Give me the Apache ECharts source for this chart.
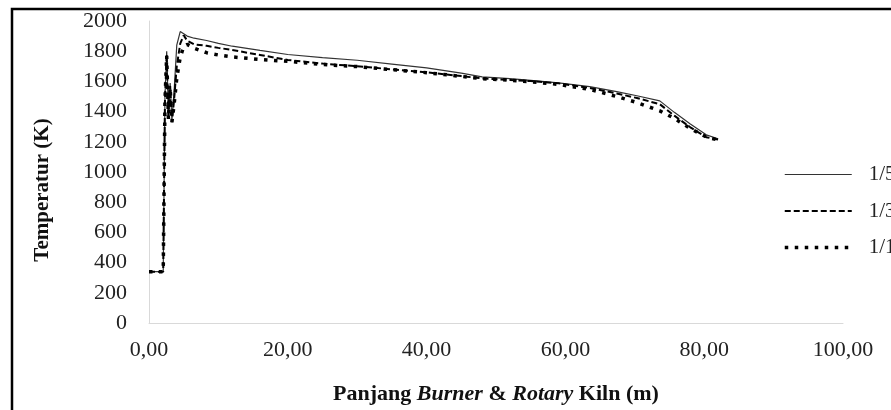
<!DOCTYPE html>
<html>
<head>
<meta charset="utf-8">
<script src="https://cdn.jsdelivr.net/npm/echarts@6/dist/echarts.min.js"></script>
<style>
html,body{margin:0;padding:0;background:#fff;}
#chart{width:891px;height:410px;}
</style>
</head>
<body>
<div id="chart"></div>
<script>
// Distance along burner & rotary kiln (m)
const distance = [0, 2.05, 2.3, 2.55, 2.8, 3.05, 3.3, 3.6, 4.0, 4.5, 5.0, 5.5, 6.5, 8.3, 10, 12, 16, 20, 25, 30, 35, 40, 45, 48, 52, 55, 59, 63.5, 67.4, 70.3, 73.6, 75.7, 78, 80.3, 82];
// Temperature (K) per series
const temp15 = [340, 340, 1500, 1800, 1380, 1590, 1340, 1520, 1840, 1930, 1915, 1900, 1886, 1871, 1852, 1833, 1805, 1778, 1757, 1740, 1715, 1690, 1655, 1630, 1618, 1607, 1590, 1565, 1532, 1505, 1471, 1395, 1318, 1246, 1220];
const temp13 = [340, 340, 1480, 1780, 1360, 1570, 1330, 1470, 1700, 1850, 1905, 1870, 1845, 1836, 1822, 1808, 1775, 1742, 1718, 1700, 1680, 1660, 1635, 1620, 1610, 1602, 1587, 1557, 1520, 1490, 1449, 1373, 1296, 1230, 1215];
const temp11 = [340, 340, 1470, 1770, 1350, 1560, 1330, 1440, 1620, 1760, 1830, 1845, 1820, 1790, 1775, 1762, 1745, 1733, 1712, 1698, 1678, 1658, 1633, 1618, 1608, 1598, 1580, 1547, 1500, 1460, 1405, 1355, 1288, 1232, 1212];
const seriesNames = ['1/5', '1/3', '1/1'];
const xTicks = [0, 20, 40, 60, 80, 100];
const yTicks = [0, 200, 400, 600, 800, 1000, 1200, 1400, 1600, 1800, 2000];

const pairs = arr => distance.map((d, i) => [d, arr[i]]);
const serif = '"Liberation Serif", "Times New Roman", serif';

const styles = [
  {color: '#333', width: 1.2, type: 'solid'},
  {color: '#000', width: 2, type: [6, 3]},
  {color: '#000', width: 3.5, type: [3.5, 6.5]}
];

const chart = echarts.init(document.getElementById('chart'), null, {renderer: 'canvas'});
chart.setOption({
  animation: false,
  backgroundColor: '#fff',
  grid: {left: 149, top: 21, right: 48, bottom: 84, containLabel: false},
  xAxis: {
    type: 'value', min: xTicks[0], max: xTicks[xTicks.length - 1], interval: 20,
    axisLine: {show: true, lineStyle: {color: '#d9d9d9', width: 1}},
    axisTick: {show: false},
    splitLine: {show: false},
    axisLabel: {
      color: '#222', fontFamily: serif, fontSize: 22, margin: 16,
      formatter: v => v.toFixed(2).replace('.', ',')
    },
    name: '{b|Panjang }{i|Burner}{b| & }{i|Rotary}{b| Kiln (m)}',
    nameLocation: 'middle', nameGap: 60,
    nameTextStyle: {
      rich: {
        b: {fontFamily: serif, fontSize: 22, fontWeight: 'bold', color: '#111'},
        i: {fontFamily: serif, fontSize: 22, fontWeight: 'bold', fontStyle: 'italic', color: '#111'}
      }
    }
  },
  yAxis: {
    type: 'value', min: yTicks[0], max: yTicks[yTicks.length - 1], interval: 200,
    axisLine: {show: true, lineStyle: {color: '#d9d9d9', width: 1}},
    axisTick: {show: false},
    splitLine: {show: false},
    axisLabel: {color: '#222', fontFamily: serif, fontSize: 22, margin: 22, formatter: v => String(v)}
  },
  legend: {
    orient: 'vertical', left: 783, top: 164, padding: 0,
    itemWidth: 67, itemHeight: 14, itemGap: 15.5,
    itemStyle: {color: 'rgba(0,0,0,0)', borderColor: 'rgba(0,0,0,0)', borderWidth: 0, opacity: 0},
    data: seriesNames.map((n, i) => ({name: n, lineStyle: Object.assign({}, styles[i])})),
    textStyle: {fontFamily: serif, fontSize: 21, color: '#222', padding: [0, 0, 0, 12], lineHeight: 20}
  },
  graphic: [
    {type: 'rect', silent: true, shape: {x: 12, y: 9, width: 900, height: 420},
     style: {fill: 'none', stroke: '#000', lineWidth: 2.5}, z: 100},
    {type: 'text', silent: true, x: 43, y: 190, rotation: Math.PI / 2,
     style: {text: 'Temperatur (K)', font: 'bold 21px ' + serif, fill: '#111',
             textAlign: 'center', textVerticalAlign: 'middle'}}
  ],
  series: [temp15, temp13, temp11].map((arr, i) => ({
    name: seriesNames[i], type: 'line', data: pairs(arr), symbol: 'none',
    lineStyle: Object.assign({}, styles[i]), itemStyle: {color: styles[i].color}
  }))
});
</script>
</body>
</html>
